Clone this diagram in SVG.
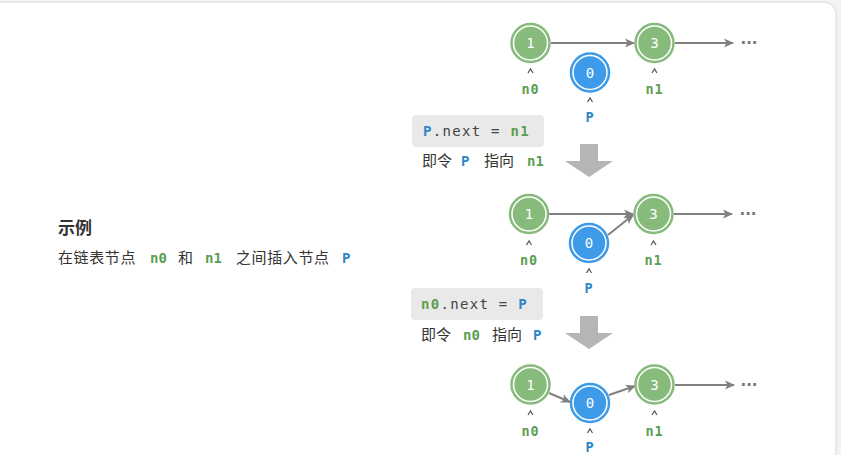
<svg xmlns="http://www.w3.org/2000/svg" width="841" height="455" viewBox="0 0 841 455">
<defs>
<style>
.g{fill:#86bb7b;stroke:#86bb7b;stroke-width:1.5}
.b{fill:#3d9be9;stroke:#3d9be9;stroke-width:1.5}
.ring{fill:none;stroke:#fff;stroke-width:1.5}
.nt{font-family:"DejaVu Sans Mono",monospace;font-size:14px;fill:#fff;text-anchor:middle}
.lbl{font-family:"DejaVu Sans Mono",monospace;font-size:13.5px;font-weight:bold;text-anchor:middle;letter-spacing:0.8px}
.lg{fill:#5c9e52}
.lb{fill:#2e86c8}
.ptr{fill:none;stroke:#555;stroke-width:1.2}
.ln{stroke:#808080;stroke-width:2;fill:none}
.code{font-family:"DejaVu Sans Mono",monospace;font-size:14px;fill:#444;letter-spacing:1.3px}
.cn{font-family:"Noto Sans CJK SC","Noto Sans",sans-serif;font-size:15px;fill:#333}
.mono{font-family:"DejaVu Sans Mono",monospace;font-weight:bold;font-size:14px}
.box{fill:#e9e9e9}
.dots{font-family:"DejaVu Sans",sans-serif;font-size:15px;font-weight:bold;fill:#777}
.big{fill:#b5b5b5}
</style>
<marker id="ah" viewBox="0 0 10 10" refX="9" refY="5" markerWidth="10" markerHeight="10" markerUnits="userSpaceOnUse" orient="auto">
<path d="M0,0.5 L10,5 L0,9.5 L2.5,5 Z" fill="#808080"/>
</marker>
</defs>
<rect x="0" y="0" width="841" height="455" fill="#f3f3f3"/>
<rect x="-12" y="2" width="848" height="470" rx="12" fill="#ffffff" stroke="#e4e4e4" stroke-width="1.5"/>

<g id="intro">
<text x="58" y="234" font-family="'Noto Sans CJK SC',sans-serif" font-size="17" font-weight="bold" fill="#333">示例</text>
<text y="263" class="cn"><tspan x="58" letter-spacing="0.6">在链表节点</tspan><tspan x="150" class="mono lg" font-size="14">n0</tspan><tspan x="178">和</tspan><tspan x="205" class="mono lg" font-size="14">n1</tspan><tspan x="236" letter-spacing="0.6">之间插入节点</tspan><tspan x="342" class="mono lb" font-size="14">P</tspan></text>
</g>

<g id="connectors">
<line class="ln" x1="551" y1="43" x2="634" y2="43" marker-end="url(#ah)"/>
<line class="ln" x1="675" y1="43" x2="733" y2="43" marker-end="url(#ah)"/>
<line class="ln" x1="549" y1="214" x2="633" y2="214" marker-end="url(#ah)"/>
<line class="ln" x1="608" y1="235" x2="633" y2="215" marker-end="url(#ah)"/>
<line class="ln" x1="674" y1="214" x2="732" y2="214" marker-end="url(#ah)"/>
<line class="ln" x1="549" y1="393" x2="570" y2="402" marker-end="url(#ah)"/>
<line class="ln" x1="609" y1="395" x2="635" y2="386" marker-end="url(#ah)"/>
<line class="ln" x1="675" y1="385" x2="734" y2="385" marker-end="url(#ah)"/>
</g>

<g id="row1">
<g id="r1n1"><circle class="g" cx="530.5" cy="43" r="19.5"/><circle class="ring" cx="530.5" cy="43" r="17"/><text class="nt" x="530.5" y="48">1</text></g>
<g id="r1n3"><circle class="g" cx="654.5" cy="43" r="19.5"/><circle class="ring" cx="654.5" cy="43" r="17"/><text class="nt" x="654.5" y="48">3</text></g>
<g id="r1n0"><circle class="b" cx="590" cy="72.5" r="19.5"/><circle class="ring" cx="590" cy="72.5" r="17"/><text class="nt" x="590" y="77.5">0</text></g>
<text class="dots" x="749" y="48" text-anchor="middle">···</text>
<path class="ptr" d="M528,73 L530.5,69 L533,73"/>
<text class="lbl lg" x="530.5" y="94">n0</text>
<path class="ptr" d="M652,73 L654.5,69 L657,73"/>
<text class="lbl lg" x="654.5" y="94">n1</text>
<path class="ptr" d="M587.5,102 L590,98 L592.5,102"/>
<text class="lbl lb" x="590" y="122">P</text>
</g>

<g id="step1">
<rect class="box" x="412" y="115" width="132" height="32" rx="4"/>
<text class="code" x="423" y="136"><tspan class="lb" font-weight="bold">P</tspan>.next = <tspan class="lg" font-weight="bold">n1</tspan></text>
<text class="cn" y="166"><tspan x="422">即令</tspan><tspan x="461" class="mono lb">P</tspan><tspan x="484">指向</tspan><tspan x="527" class="mono lg">n1</tspan></text>
<path class="big" d="M580,144 L598,144 L598,161 L613,161 L589,177 L565,161 L580,161 Z"/>
</g>

<g id="row2">
<g id="r2n1"><circle class="g" cx="529" cy="214" r="19.5"/><circle class="ring" cx="529" cy="214" r="17"/><text class="nt" x="529" y="219">1</text></g>
<g id="r2n3"><circle class="g" cx="653.5" cy="214" r="19.5"/><circle class="ring" cx="653.5" cy="214" r="17"/><text class="nt" x="653.5" y="219">3</text></g>
<g id="r2n0"><circle class="b" cx="589" cy="243" r="19.5"/><circle class="ring" cx="589" cy="243" r="17"/><text class="nt" x="589" y="248">0</text></g>
<text class="dots" x="748" y="219" text-anchor="middle">···</text>
<path class="ptr" d="M526.5,245 L529,241 L531.5,245"/>
<text class="lbl lg" x="529" y="265">n0</text>
<path class="ptr" d="M651,245 L653.5,241 L656,245"/>
<text class="lbl lg" x="653.5" y="265">n1</text>
<path class="ptr" d="M586.5,273 L589,269 L591.5,273"/>
<text class="lbl lb" x="589" y="293">P</text>
</g>

<g id="step2">
<rect class="box" x="411" y="288" width="132" height="32" rx="4"/>
<text class="code" x="421" y="309"><tspan class="lg" font-weight="bold">n0</tspan>.next = <tspan class="lb" font-weight="bold">P</tspan></text>
<text class="cn" y="340"><tspan x="421">即令</tspan><tspan x="463" class="mono lg">n0</tspan><tspan x="492">指向</tspan><tspan x="533" class="mono lb">P</tspan></text>
<path class="big" d="M580,316 L598,316 L598,333 L613,333 L589,349 L565,333 L580,333 Z"/>
</g>

<g id="row3">
<g id="r3n1"><circle class="g" cx="530.5" cy="384.5" r="19.5"/><circle class="ring" cx="530.5" cy="384.5" r="17"/><text class="nt" x="530.5" y="389.5">1</text></g>
<g id="r3n3"><circle class="g" cx="654.5" cy="384.5" r="19.5"/><circle class="ring" cx="654.5" cy="384.5" r="17"/><text class="nt" x="654.5" y="389.5">3</text></g>
<g id="r3n0"><circle class="b" cx="590" cy="403" r="19.5"/><circle class="ring" cx="590" cy="403" r="17"/><text class="nt" x="590" y="408">0</text></g>
<text class="dots" x="749" y="390" text-anchor="middle">···</text>
<path class="ptr" d="M528,415 L530.5,411 L533,415"/>
<text class="lbl lg" x="530.5" y="436">n0</text>
<path class="ptr" d="M652,415 L654.5,411 L657,415"/>
<text class="lbl lg" x="654.5" y="436">n1</text>
<path class="ptr" d="M587.5,433 L590,429 L592.5,433"/>
<text class="lbl lb" x="590" y="452">P</text>
</g>
</svg>
